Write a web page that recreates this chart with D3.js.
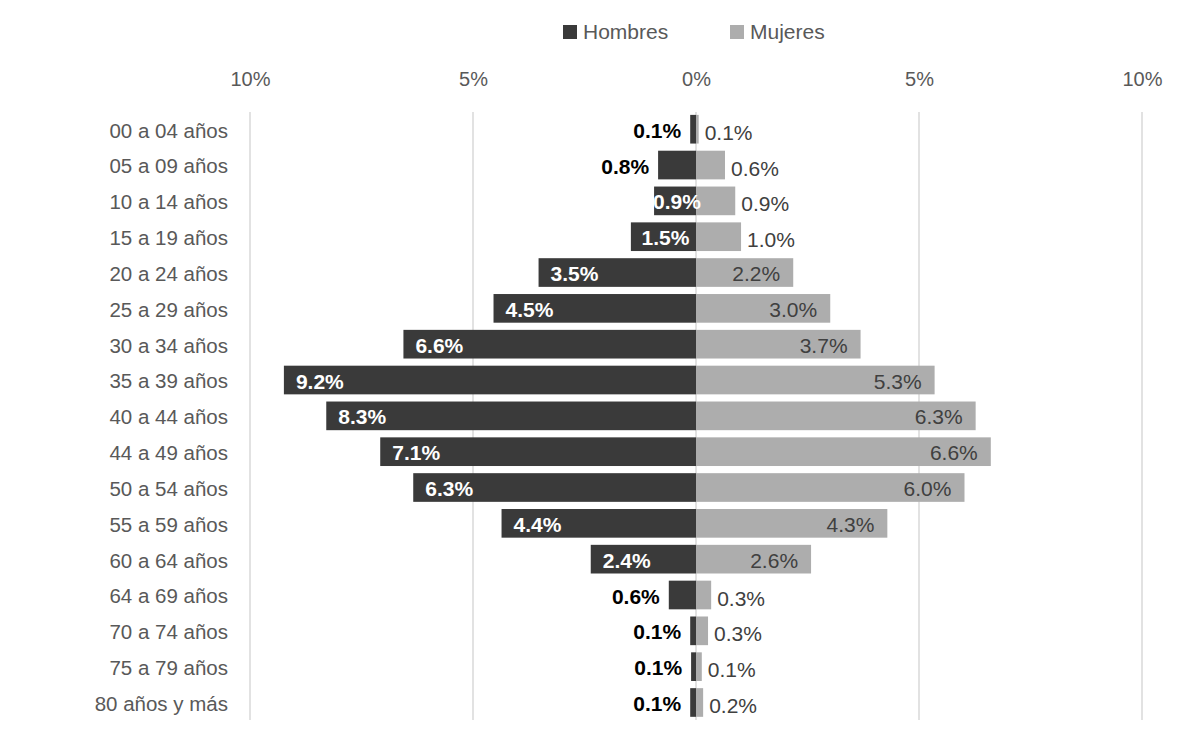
<!DOCTYPE html>
<html>
<head>
<meta charset="utf-8">
<script src="https://cdn.jsdelivr.net/npm/d3@7"></script>
<style>
  body { margin: 0; background: #fff; }
  svg { display: block; font-family: "Liberation Sans", Arial, sans-serif; }
</style>
</head>
<body>
<svg id="chart" width="1190" height="732"></svg>
<script>
const categories = ["00 a 04 años","05 a 09 años","10 a 14 años","15 a 19 años","20 a 24 años","25 a 29 años","30 a 34 años","35 a 39 años","40 a 44 años","44 a 49 años","50 a 54 años","55 a 59 años","60 a 64 años","64 a 69 años","70 a 74 años","75 a 79 años","80 años y más"];
const hombres = [0.13,0.85,0.94,1.46,3.53,4.54,6.56,9.24,8.29,7.08,6.34,4.36,2.36,0.61,0.13,0.11,0.13];
const hombresLabels = ["0.1%","0.8%","0.9%","1.5%","3.5%","4.5%","6.6%","9.2%","8.3%","7.1%","6.3%","4.4%","2.4%","0.6%","0.1%","0.1%","0.1%"];
const mujeres = [0.06,0.65,0.88,1.01,2.18,3.01,3.69,5.35,6.27,6.61,6.02,4.29,2.58,0.34,0.27,0.13,0.16];
const mujeresLabels = ["0.1%","0.6%","0.9%","1.0%","2.2%","3.0%","3.7%","5.3%","6.3%","6.6%","6.0%","4.3%","2.6%","0.3%","0.3%","0.1%","0.2%"];
const tickValues = [-10,-5,0,5,10];
const tickLabels = ["10%","5%","0%","5%","10%"];
const seriesNames = ["Hombres","Mujeres"];
const colors = ["#3a3a3a","#adadad"];

const svg = d3.select("#chart");
const x = d3.scaleLinear().domain([-10,10]).range([250,1142]);
const y = d3.scaleBand().domain(categories).range([111.3,720.4]).paddingInner(0.2).paddingOuter(0.1);

// gridlines
svg.append("g").selectAll("line").data(tickValues).join("line")
  .attr("x1", d => x(d)).attr("x2", d => x(d))
  .attr("y1", 112).attr("y2", 720)
  .attr("stroke", "#d9d9d9").attr("stroke-width", 1.5);

// top axis labels
const axis = d3.axisTop(x).tickValues(tickValues).tickFormat((d,i) => tickLabels[i]).tickSize(0).tickPadding(0);
const gAxis = svg.append("g").attr("transform", "translate(0,86)").call(axis);
gAxis.select(".domain").remove();
gAxis.selectAll("text").attr("font-size", 20).attr("fill", "#595959")
  .attr("font-family", '"Liberation Sans", Arial, sans-serif');

// category labels
const gy = svg.append("g").attr("transform", "translate(228,0)")
  .call(d3.axisLeft(y).tickSize(0).tickPadding(0));
gy.select(".domain").remove();
gy.selectAll("text").attr("font-size", 20.5).attr("fill", "#595959")
  .attr("font-family", '"Liberation Sans", Arial, sans-serif')
  .attr("dy", "0.36em").attr("y", 1);

const bw = y.bandwidth();
// Hombres bars
svg.append("g").selectAll("rect").data(hombres).join("rect")
  .attr("x", d => x(-d)).attr("width", d => x(0) - x(-d))
  .attr("y", (d,i) => y(categories[i])).attr("height", bw)
  .attr("fill", colors[0]);
// Mujeres bars
svg.append("g").selectAll("rect").data(mujeres).join("rect")
  .attr("x", x(0)).attr("width", d => x(d) - x(0))
  .attr("y", (d,i) => y(categories[i])).attr("height", bw)
  .attr("fill", colors[1]);

const fs = 21;
// Hombres labels
svg.append("g").selectAll("text").data(hombres).join("text")
  .each(function(d,i) {
    const t = d3.select(this);
    const left = x(-d), w = x(0) - left;
    const cy = y(categories[i]) + bw/2 + 0.36*fs + 1;
    t.text(hombresLabels[i]).attr("font-size", fs).attr("font-weight", "bold").attr("y", cy);
    if (d >= 0.9) {
      const tw = this.getComputedTextLength();
      const cx = Math.min(left + 12 + tw/2, left + w/2 + 2);
      t.attr("x", cx).attr("text-anchor", "middle").attr("fill", "#ffffff");
    } else {
      t.attr("x", left - 9).attr("text-anchor", "end").attr("fill", "#000000");
    }
  });
// Mujeres labels
svg.append("g").selectAll("text").data(mujeres).join("text")
  .each(function(d,i) {
    const t = d3.select(this);
    const right = x(d);
    const inside = d >= 2;
    const cy = y(categories[i]) + bw/2 + 0.36*fs + (inside ? 1 : 3);
    t.text(mujeresLabels[i]).attr("font-size", fs).attr("fill", "#404040").attr("y", cy);
    if (inside) {
      t.attr("x", right - 13).attr("text-anchor", "end");
    } else {
      t.attr("x", right + 6).attr("text-anchor", "start");
    }
  });

// legend
const legendX = [563, 730];
const lg = svg.append("g");
seriesNames.forEach((n,i) => {
  lg.append("rect").attr("x", legendX[i]).attr("y", 25).attr("width", 14).attr("height", 14).attr("fill", colors[i]);
  lg.append("text").attr("x", legendX[i] + 20).attr("y", 39).attr("font-size", 21).attr("fill", "#595959").text(n);
});
</script>
</body>
</html>
